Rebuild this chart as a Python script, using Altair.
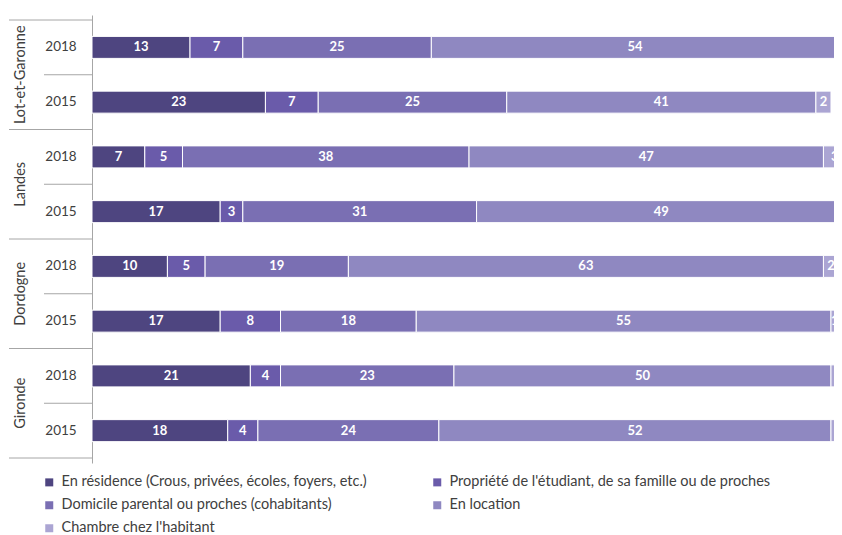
import altair as alt
import pandas as pd

departements = ["Lot-et-Garonne", "Landes", "Dordogne", "Gironde"]
annees = ["2018", "2015"]
categories = [
    "En résidence (Crous, privées, écoles, foyers, etc.)",
    "Propriété de l'étudiant, de sa famille ou de proches",
    "Domicile parental ou proches (cohabitants)",
    "En location",
    "Chambre chez l'habitant",
]
# rows in order: LeG 2018, LeG 2015, Landes 2018, Landes 2015, Dordogne 2018, Dordogne 2015, Gironde 2018, Gironde 2015
residence = [13, 23, 7, 17, 10, 17, 21, 18]
propriete = [7, 7, 5, 3, 5, 8, 4, 4]
domicile = [25, 25, 38, 31, 19, 18, 23, 24]
location = [54, 41, 47, 49, 63, 55, 50, 52]
chambre = [1, 2, 3, 0, 2, 1, 2, 2]

colors = ["#4E4580", "#6A5BAA", "#7A6FB3", "#8F88C1", "#ABA5D3"]

series = [residence, propriete, domicile, location, chambre]

records = []
rowrecs = []
for i in range(8):
    dept = departements[i // 2]
    year = annees[i % 2]
    pos = i + 0.5
    rowrecs.append({"pos": pos, "annee": year})
    start = 0
    for c, s in zip(categories, series):
        v = s[i]
        records.append({
            "departement": dept, "annee": year, "pos": pos, "categorie": c,
            "value": v, "start": start, "end": start + v, "mid": start + v / 2,
            "label": str(v),
        })
        start += v

df = pd.DataFrame(records)
df_rows = pd.DataFrame(rowrecs)
df_dept = pd.DataFrame({"departement": departements, "pos": [1, 3, 5, 7]})
df_long = pd.DataFrame({"pos": [0, 2, 4, 6, 8]})
df_short = pd.DataFrame({"pos": [1, 3, 5, 7]})

FONT = "Lato"
GRAY = "#A6A6A6"

yscale = alt.Scale(domain=[0, 8], reverse=True, nice=False, zero=False)
xscale = alt.Scale(domain=[0, 98.4], nice=False, zero=True)

bars = alt.Chart(df).mark_bar(orient="horizontal", height=22, stroke="white", strokeWidth=1).encode(
    x=alt.X("start:Q", scale=xscale, axis=None),
    x2="end:Q",
    y=alt.Y("pos:Q", scale=yscale,
            axis=alt.Axis(title=None, labels=False, ticks=False, grid=False,
                          domainColor=GRAY, domainWidth=1, values=[0])),
    color=alt.Color("categorie:N", scale=alt.Scale(domain=categories, range=colors),
                    legend=alt.Legend(title=None, orient="none", legendX=-50, legendY=460,
                                      direction="horizontal", columns=2,
                                      symbolType="square", symbolSize=64,
                                      symbolStrokeWidth=0, labelFont=FONT, labelFontSize=14.5,
                                      labelColor="#404040", rowPadding=8, columnPadding=63,
                                      labelLimit=500, labelOffset=5)),
)

labels = alt.Chart(df).transform_filter("datum.value > 0").mark_text(
    color="white", fontWeight="bold", font=FONT, fontSize=13, baseline="middle", align="center"
).encode(
    x=alt.X("mid:Q", scale=xscale),
    y=alt.Y("pos:Q", scale=yscale),
    text="label:N",
)

years = alt.Chart(df_rows).mark_text(
    align="center", baseline="middle", font=FONT, fontSize=13.5, color="#404040"
).encode(x=alt.value(-31), y=alt.Y("pos:Q", scale=yscale), text="annee:N")

depts = alt.Chart(df_dept).mark_text(
    align="center", baseline="middle", angle=270, font=FONT, fontSize=14.5, color="#404040"
).encode(x=alt.value(-71), y=alt.Y("pos:Q", scale=yscale), text="departement:N")

long_rules = alt.Chart(df_long).mark_rule(color=GRAY, strokeWidth=1).encode(
    x=alt.value(-83), x2=alt.value(0), y=alt.Y("pos:Q", scale=yscale))
short_rules = alt.Chart(df_short).mark_rule(color=GRAY, strokeWidth=1).encode(
    x=alt.value(-48), x2=alt.value(0), y=alt.Y("pos:Q", scale=yscale))

chart = alt.layer(bars, labels, years, depts, long_rules, short_rules).properties(
    width=742, height=448,
    autosize=alt.AutoSizeParams(type="none"),
    padding={"left": 84, "top": 7, "right": 0, "bottom": 72},
).configure_view(stroke=None)

chart.save("out.html", embed_options={"renderer": "svg", "actions": False})
